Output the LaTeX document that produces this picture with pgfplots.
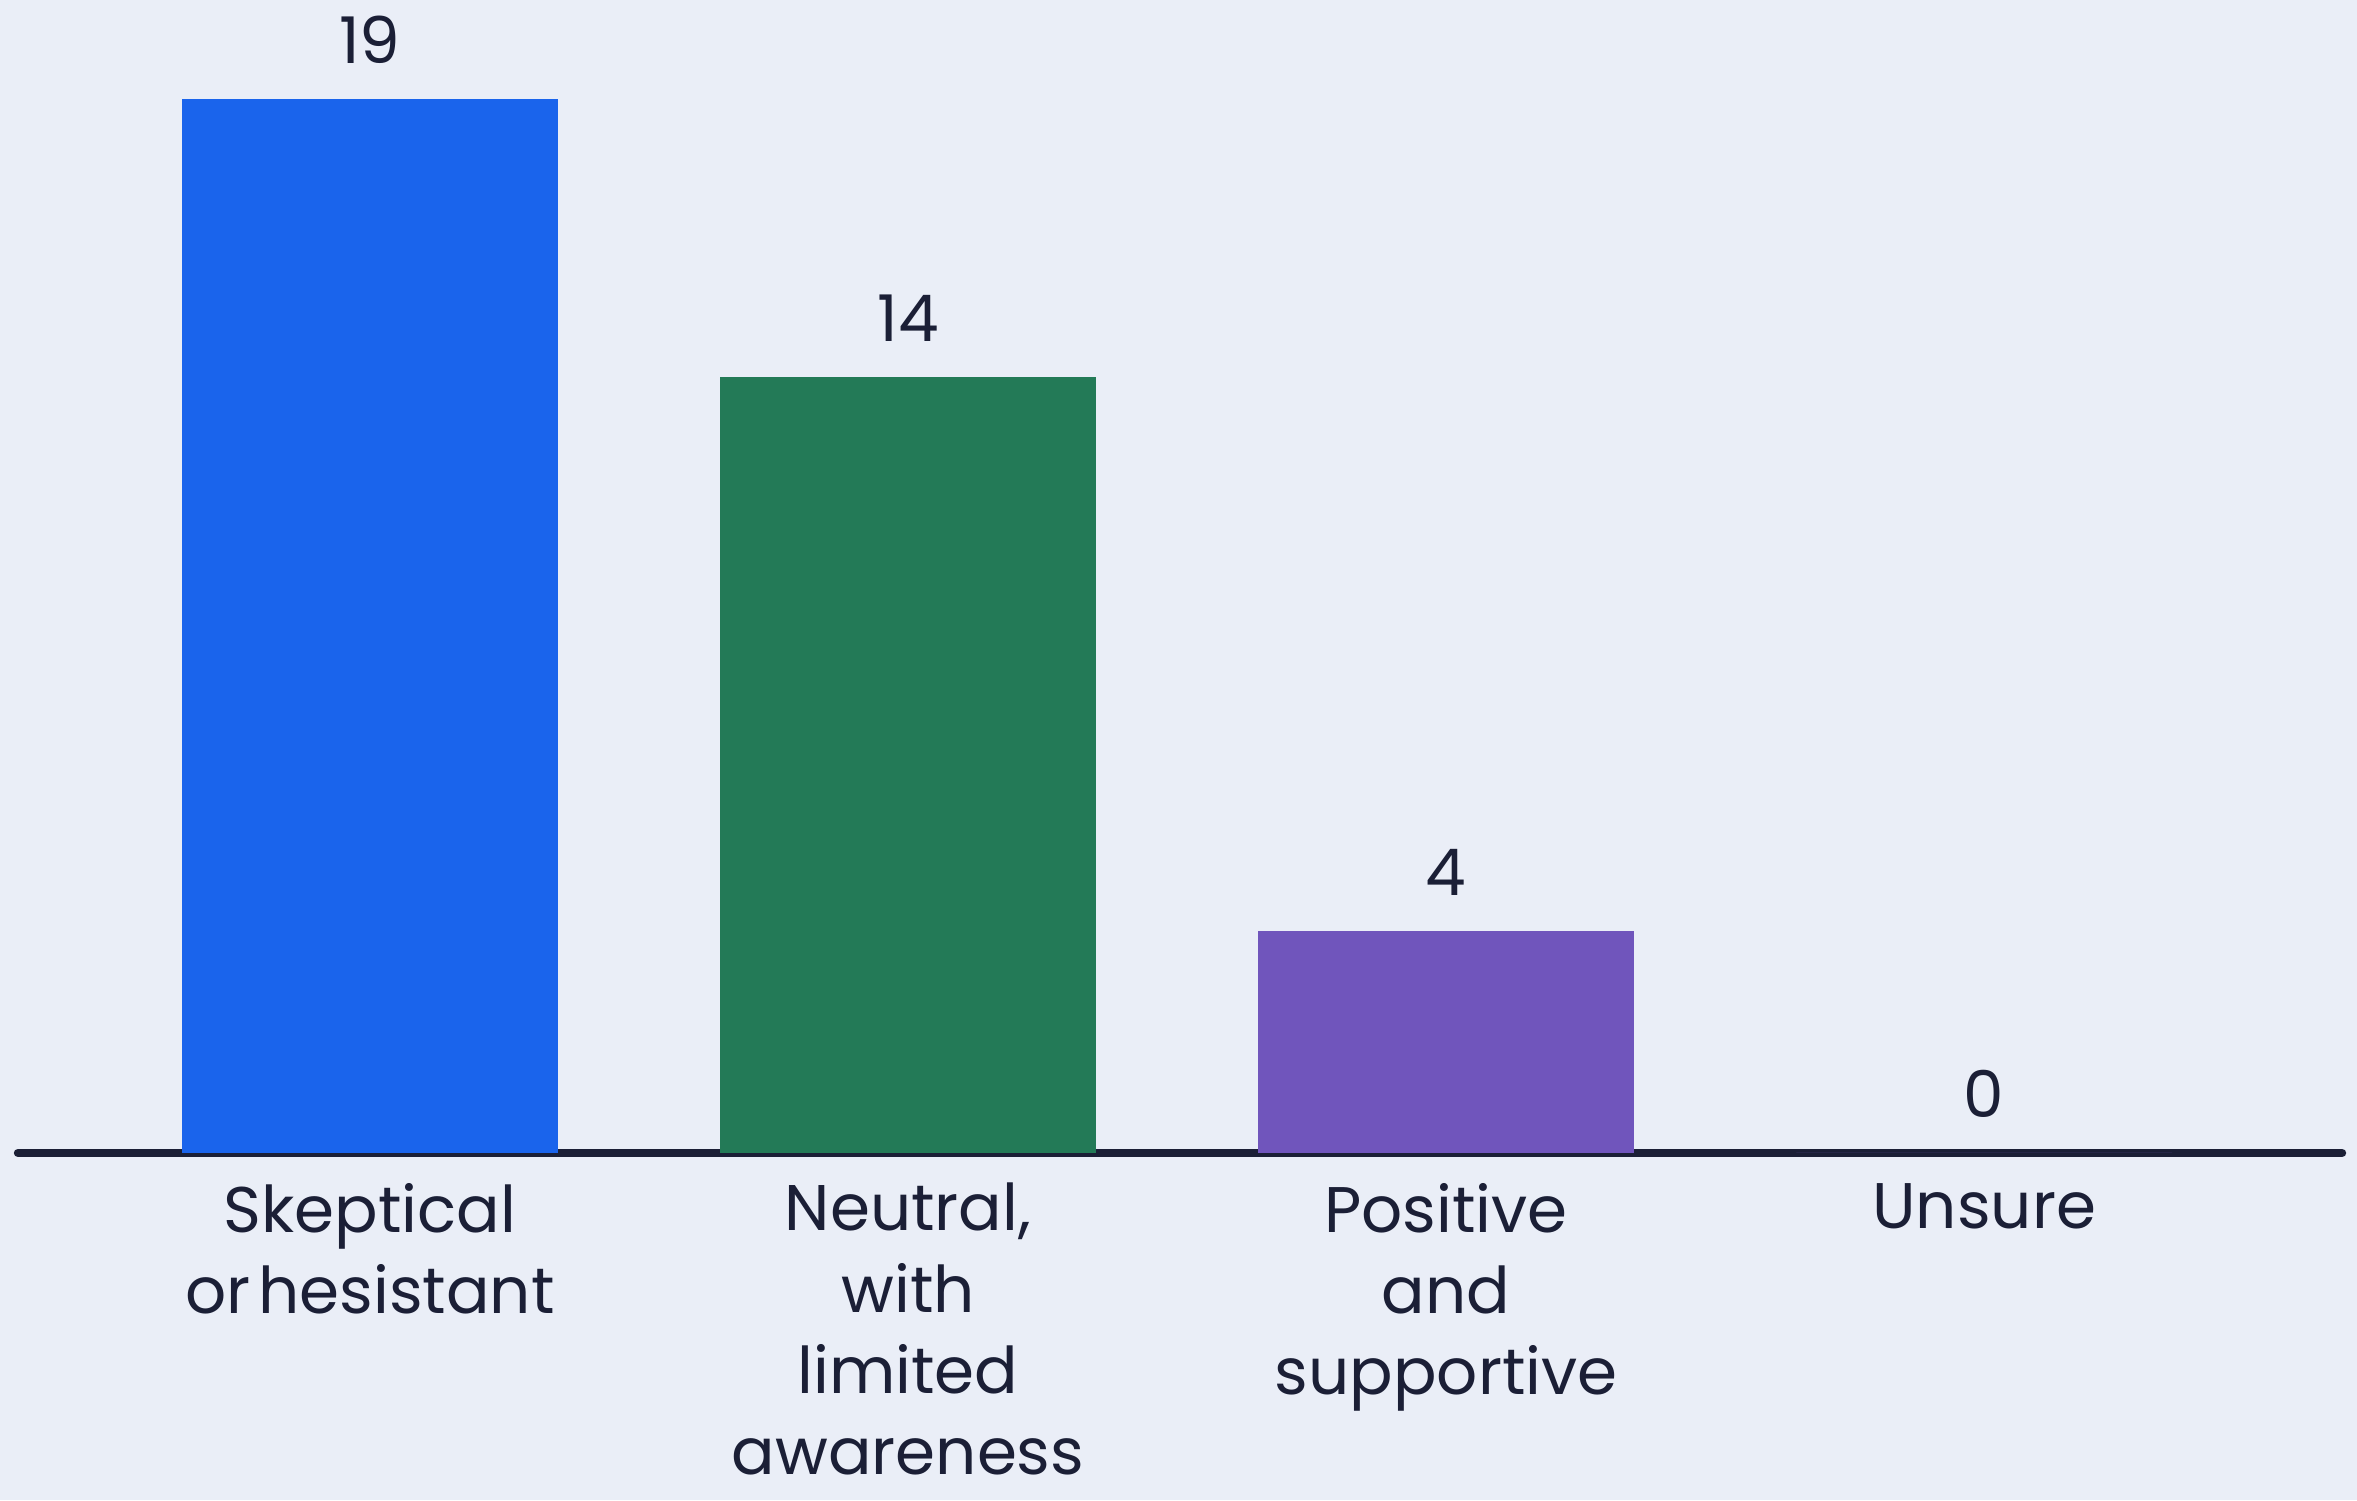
\documentclass[border=0pt]{standalone}
\usepackage{pgfplots}
\pgfplotsset{compat=1.18}
\usepackage{fontspec}
\setmainfont{Poppins}
\definecolor{bg}{HTML}{EAEEF7}
\definecolor{ink}{HTML}{1B1F36}
\definecolor{cblue}{HTML}{1A64EC}
\definecolor{cgreen}{HTML}{237A57}
\definecolor{cpurple}{HTML}{7055BC}
\begin{document}
\begin{tikzpicture}
\fill[bg] (-0.12,-2.31) rectangle (15.56,7.67);
\begin{axis}[
    scale only axis,
    width=15.46cm, height=7.67cm,
    xmin=-0.654, xmax=3.665,
    ymin=0, ymax=20.79,
    axis x line=bottom,
    axis y line=none,
    x axis line style={-, ink, line width=1.6pt, line cap=round},
    xtick={0,1,2,3},
    xticklabels={Skeptical\\or\hspace{0.12em}hesistant, {Neutral,\\with\\limited\\awareness}, Positive\\and\\supportive, Unsure},
    major tick length=0pt,
    x tick label style={align=center, font=\fontsize{12.2}{15.4}\selectfont, text=ink, inner sep=0pt, anchor=north, yshift=-5.5pt},
    ybar, bar width=2.5cm, bar shift=0pt,
    nodes near coords,
    /pgf/number format/assume math mode=true,
    every node near coord/.append style={font=\fontsize{12.2}{15.4}\selectfont, text=ink, inner sep=0pt, anchor=south, yshift=6.5pt},
    clip=false,
]
\addplot[fill=cblue, draw=none] coordinates {(0,19)};
\addplot[fill=cgreen, draw=none] coordinates {(1,14)};
\addplot[fill=cpurple, draw=none] coordinates {(2,4)};
\addplot[fill=cpurple, draw=none] coordinates {(3,0)};
\end{axis}
\pgfresetboundingbox
\path[use as bounding box] (-0.12,-2.31) rectangle (15.56,7.67);
\end{tikzpicture}
\end{document}
